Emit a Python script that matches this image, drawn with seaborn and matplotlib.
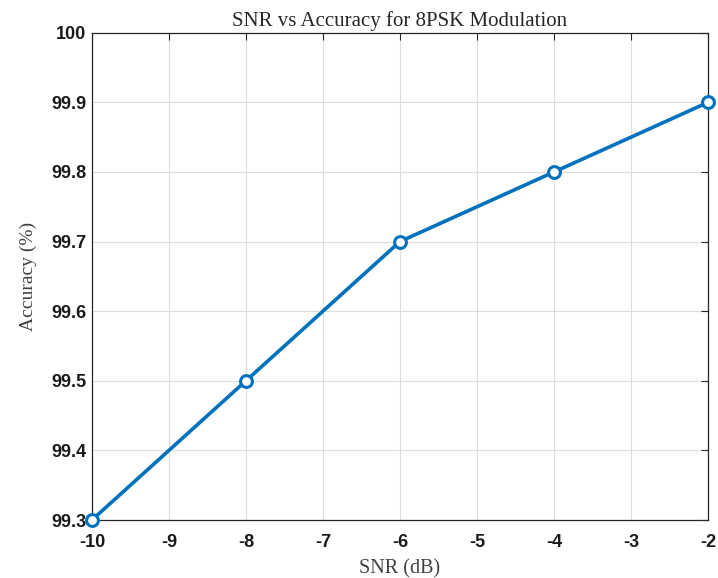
import matplotlib
matplotlib.use("Agg")
import matplotlib.pyplot as plt
import seaborn as sns
import pandas as pd

snr = [-10, -8, -6, -4, -2]
accuracy = [99.3, 99.5, 99.7, 99.8, 99.9]
xticks = [-10, -9, -8, -7, -6, -5, -4, -3, -2]
yticks = [99.3, 99.4, 99.5, 99.6, 99.7, 99.8, 99.9, 100]
ytick_labels = ["99.3", "99.4", "99.5", "99.6", "99.7", "99.8", "99.9", "100"]

sns.set_style("white")
plt.rcParams["axes.unicode_minus"] = False
df = pd.DataFrame({"SNR": snr, "Accuracy": accuracy})

fig = plt.figure(figsize=(7.18, 5.78), dpi=100)
ax = fig.add_axes([0.128, 0.1003, 0.858, 0.843])
sns.lineplot(data=df, x="SNR", y="Accuracy", ax=ax, color="#0072BD", linewidth=2.6,
             marker="o", markersize=8.5, markerfacecolor="white", markeredgecolor="#0072BD",
             markeredgewidth=2.2, clip_on=False, zorder=5)

ax.set_xlim(-10, -2)
ax.set_ylim(99.3, 100)
ax.set_xticks(xticks)
ax.set_xticklabels([str(v) for v in xticks])
ax.set_yticks(yticks)
ax.set_yticklabels(ytick_labels)
ax.grid(True, color="#dddddd", linewidth=0.8)
ax.tick_params(direction="in", top=True, right=True, length=5, width=0.8, color="#262626")
for lab in ax.get_xticklabels() + ax.get_yticklabels():
    lab.set_family("Liberation Sans")
    lab.set_fontweight("bold")
    lab.set_fontsize(13)
    lab.set_color("#1a1a1a")
ax.tick_params(axis="x", pad=10)
ax.tick_params(axis="y", pad=4)
for s in ax.spines.values():
    s.set_color("#262626")
    s.set_linewidth(0.9)
ax.set_xlabel("SNR (dB)", family="Liberation Serif", fontsize=14.5, color="#404040", labelpad=6)
ax.set_ylabel("Accuracy (%)", family="Liberation Serif", fontsize=14, color="#404040", labelpad=10)
ax.set_title("SNR vs Accuracy for 8PSK Modulation", family="Liberation Serif", fontsize=15, color="#262626", pad=5)

fig.savefig("out.png", dpi=100)
